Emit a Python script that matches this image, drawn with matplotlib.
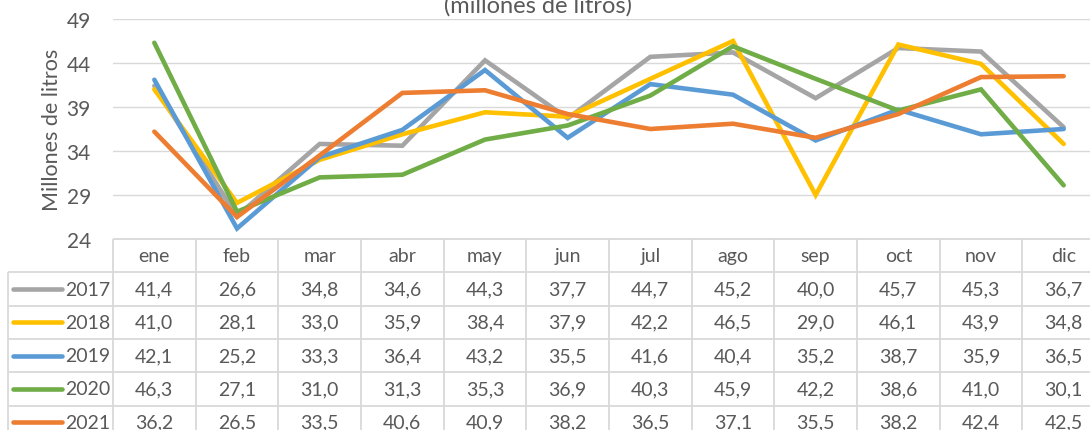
import matplotlib
matplotlib.use('Agg')
import matplotlib.pyplot as plt

plt.rcParams['font.family'] = ['Lato', 'DejaVu Sans']

meses = ['ene', 'feb', 'mar', 'abr', 'may', 'jun', 'jul', 'ago', 'sep', 'oct', 'nov', 'dic']
anios = ['2017', '2018', '2019', '2020', '2021']
v2017 = [41.4, 26.6, 34.8, 34.6, 44.3, 37.7, 44.7, 45.2, 40.0, 45.7, 45.3, 36.7]
v2018 = [41.0, 28.1, 33.0, 35.9, 38.4, 37.9, 42.2, 46.5, 29.0, 46.1, 43.9, 34.8]
v2019 = [42.1, 25.2, 33.3, 36.4, 43.2, 35.5, 41.6, 40.4, 35.2, 38.7, 35.9, 36.5]
v2020 = [46.3, 27.1, 31.0, 31.3, 35.3, 36.9, 40.3, 45.9, 42.2, 38.6, 41.0, 30.1]
v2021 = [36.2, 26.5, 33.5, 40.6, 40.9, 38.2, 36.5, 37.1, 35.5, 38.2, 42.4, 42.5]
series = [v2017, v2018, v2019, v2020, v2021]
colores = ['#A5A5A5', '#FFC000', '#5B9BD5', '#70AD47', '#ED7D31']
yticks = [24, 29, 34, 39, 44, 49]

W, H = 1090, 431
txt = '#595959'
grid = '#D9D9D9'
fs = 14
fig = plt.figure(figsize=(W / 100, H / 100), dpi=100)

# plot area (right edge runs past the figure, as in the cropped reference)
x0, x1 = 113, 1105
ax = fig.add_axes([x0 / W, (H - 240) / H, (x1 - x0) / W, 220 / H])
x = range(len(meses))
for s, c in zip(series, colores):
    ax.plot(x, s, color=c, lw=3.3, solid_capstyle='round', solid_joinstyle='miter', zorder=3)
ax.set_xlim(-0.5, 11.5)
ax.set_ylim(24, 49)
ax.set_yticks(yticks)
ax.set_xticks([])
ax.tick_params(axis='y', length=0, pad=16, labelsize=15, labelcolor=txt)
ax.grid(axis='y', color=grid, lw=1)
for sp in ax.spines.values():
    sp.set_visible(False)
ax.set_ylabel('Millones de litros', fontsize=15.5, color=txt, labelpad=3)
fig.text(538 / W, (H - 13) / H, '(millones de litros)', ha='center', va='baseline',
         fontsize=17, color=txt)

# data table
tb = fig.add_axes([x0 / W, (H - 440) / H, (x1 - x0) / W, 200 / H])
tb.set_xlim(-0.5, 11.5)
tb.set_ylim(6, 0)
tb.axis('off')
xl = -0.5 - (x0 - 8) / 82.7
tb.hlines([0], -0.5, 11.5, color=grid, lw=1.3, clip_on=False)
tb.hlines(range(1, 7), xl, 11.5, color=grid, lw=1.3, clip_on=False)
tb.vlines([k - 0.5 for k in range(13)], 0, 6, color=grid, lw=1.3, clip_on=False)
tb.vlines([xl], 1, 6, color=grid, lw=1.3, clip_on=False)
for i, m in enumerate(meses):
    tb.text(i, 0.5, m, ha='center', va='center', fontsize=fs, color=txt)
for r, (a, s, c) in enumerate(zip(anios, series, colores)):
    y = r + 1.5
    tb.plot([xl + 0.06, xl + 0.65], [y, y], color=c, lw=3.3, solid_capstyle='round', clip_on=False)
    tb.text(xl + 0.69, y, a, ha='left', va='center', fontsize=fs, color=txt, clip_on=False)
    for i, v in enumerate(s):
        tb.text(i, y, f'{v:.1f}'.replace('.', ','), ha='center', va='center',
                fontsize=fs, color=txt)

fig.savefig('out.png', dpi=100)
